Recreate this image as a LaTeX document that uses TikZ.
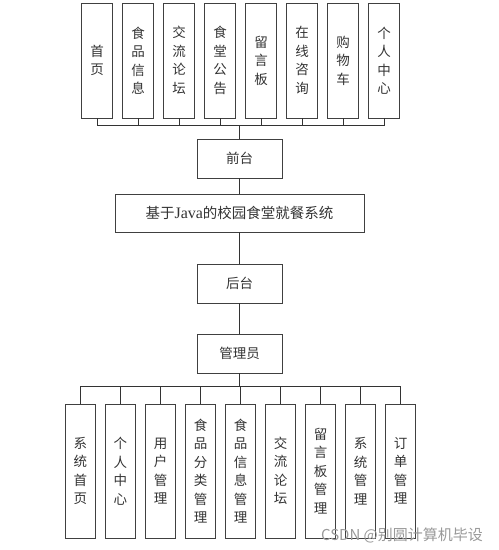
\documentclass[tikz,border=0pt]{standalone}
\usepackage{fontspec}
\setmainfont{Noto Sans CJK SC}
\newfontfamily\latinserif{Liberation Serif}
\begin{document}
\begin{tikzpicture}[x=1pt,y=-1pt,
  line/.style={draw=black!75,line width=0.9pt},
  vbox/.style={line,rectangle,inner sep=0pt,minimum width=30.5pt,align=center,text=black!80,font=\fontsize{13.5}{18.5}\selectfont},
  topbox/.style={vbox,minimum height=115pt},
  botbox/.style={vbox,minimum height=134pt},
  hbox/.style={line,rectangle,inner sep=0pt,minimum width=85pt,minimum height=39pt,text=black!80,font=\fontsize{13.5}{16}\selectfont},
  conn/.style={draw=black!80,line width=0.9pt}
]
\useasboundingbox (0,0) rectangle (499,550);
% top row
\node[topbox] (t1) at (97,60.5) {首\\页};
\node[topbox] (t2) at (138,60.5) {食\\品\\信\\息};
\node[topbox] (t3) at (179,60.5) {交\\流\\论\\坛};
\node[topbox] (t4) at (220,60.5) {食\\堂\\公\\告};
\node[topbox] (t5) at (261,60.5) {留\\言\\板};
\node[topbox] (t6) at (302,60.5) {在\\线\\咨\\询};
\node[topbox] (t7) at (343,60.5) {购\\物\\车};
\node[topbox] (t8) at (384,60.5) {个\\人\\中\\心};
% middle column
\node[hbox] (qt) at (239.5,158.5) {前台};
\node[hbox,minimum width=249pt,minimum height=38pt,font=\fontsize{14.5}{16}\selectfont] (sys) at (239.5,213) {基于{\latinserif\fontsize{16}{16}\selectfont Java}的校园食堂就餐系统};
\node[hbox] (ht) at (239.5,283.5) {后台};
\node[hbox] (gly) at (239.5,353.5) {管理员};
% bottom row
\node[botbox] (b1) at (80.5,471) {系\\统\\首\\页};
\node[botbox] (b2) at (120.5,471) {个\\人\\中\\心};
\node[botbox] (b3) at (160.5,471) {用\\户\\管\\理};
\node[botbox] (b4) at (200.5,471) {食\\品\\分\\类\\管\\理};
\node[botbox] (b5) at (240.5,471) {食\\品\\信\\息\\管\\理};
\node[botbox] (b6) at (280.5,471) {交\\流\\论\\坛};
\node[botbox] (b7) at (320.5,471) {留\\言\\板\\管\\理};
\node[botbox] (b8) at (360.5,471) {系\\统\\管\\理};
\node[botbox] (b9) at (400.5,471) {订\\单\\管\\理};
% connectors
\coordinate (topbus) at (239.5,125);
\foreach \i in {1,...,8} {\draw[conn] (t\i.south) |- (topbus);}
\draw[conn] (topbus) -- (qt.north);
\draw[conn] (qt.south) -- (sys.north);
\draw[conn] (sys.south) -- (ht.north);
\draw[conn] (ht.south) -- (gly.north);
\coordinate (botbus) at (239.5,386);
\draw[conn] (gly.south) -- (botbus);
\foreach \i in {1,...,9} {\draw[conn] (botbus) -| (b\i.north);}
% watermark
\node[text=black!40,font=\fontsize{15}{15}\selectfont,inner sep=0pt] (wm) at (402,535) {CSDN @别圆计算机毕设};
\end{tikzpicture}
\end{document}
